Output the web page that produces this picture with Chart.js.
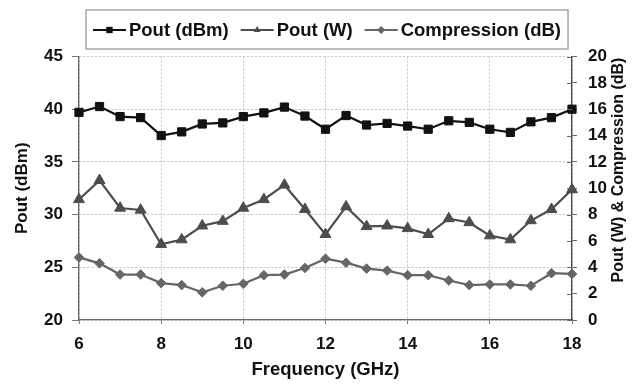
<!DOCTYPE html>
<html>
<head>
<meta charset="utf-8">
<script src="https://cdn.jsdelivr.net/npm/chart.js@4/dist/chart.umd.min.js"></script>
<style>
  html, body { margin: 0; padding: 0; background: #fff; }
  #wrap { width: 643px; height: 384px; }
</style>
</head>
<body>
<div id="wrap"><canvas id="c" width="643" height="384"></canvas></div>
<script>
// Frequency sweep (GHz)
const freq = [6, 6.5, 7, 7.5, 8, 8.5, 9, 9.5, 10, 10.5, 11, 11.5, 12,
              12.5, 13, 13.5, 14, 14.5, 15, 15.5, 16, 16.5, 17, 17.5, 18];

// Output power (dBm) – left axis
const poutDbm = [39.7, 40.25, 39.3, 39.2, 37.5, 37.85, 38.6, 38.7, 39.3, 39.65, 40.2, 39.35, 38.1,
                 39.4, 38.5, 38.65, 38.4, 38.1, 38.9, 38.75, 38.1, 37.8, 38.8, 39.2, 40.0];

// Output power (W) – right axis
const poutW = [9.15, 10.6, 8.5, 8.35, 5.75, 6.1, 7.15, 7.5, 8.5, 9.15, 10.25, 8.4, 6.5,
               8.6, 7.1, 7.15, 6.95, 6.5, 7.7, 7.4, 6.4, 6.1, 7.55, 8.4, 9.9];

// Gain compression (dB) – right axis
const compression = [4.75, 4.3, 3.45, 3.45, 2.8, 2.65, 2.1, 2.6, 2.75, 3.4, 3.45, 3.95, 4.65,
                     4.35, 3.9, 3.75, 3.4, 3.4, 3.0, 2.65, 2.7, 2.7, 2.6, 3.55, 3.5];

const seriesLabels = ['Pout (dBm)', 'Pout (W)', 'Compression (dB)'];
const xTitle = 'Frequency (GHz)';
const yLeftTitle = 'Pout (dBm)';
const yRightTitle = 'Pout (W) & Compression (dB)';

const FONT = '"Liberation Sans", Arial, Helvetica, sans-serif';
Chart.defaults.font.family = FONT;
Chart.defaults.color = '#111';

const toPoints = (vals) => freq.map((f, i) => ({ x: f, y: vals[i] }));

function marker(ctx, style, x, y, r) {
  ctx.beginPath();
  if (style === 'rect') {
    const s = r * Math.SQRT1_2;
    ctx.rect(x - s, y - s, 2 * s, 2 * s);
  } else if (style === 'triangle') {
    ctx.moveTo(x, y - r);
    ctx.lineTo(x + r * Math.sin(Math.PI / 3), y + r / 2);
    ctx.lineTo(x - r * Math.sin(Math.PI / 3), y + r / 2);
    ctx.closePath();
  } else {
    ctx.moveTo(x, y - r); ctx.lineTo(x + r, y); ctx.lineTo(x, y + r); ctx.lineTo(x - r, y);
    ctx.closePath();
  }
  ctx.fill();
}

// Boxed legend with line + marker symbols, right-axis title (bottom-to-top) and inner ticks
const decorations = {
  id: 'decorations',
  afterDraw(chart) {
    const ctx = chart.ctx;
    const area = chart.chartArea;
    ctx.save();

    // inner tick marks on the right axis
    const y1 = chart.scales.y1;
    ctx.strokeStyle = '#666';
    ctx.lineWidth = 1;
    y1.ticks.forEach(t => {
      const py = Math.round(y1.getPixelForValue(t.value)) + 0.5;
      ctx.beginPath(); ctx.moveTo(area.right - 5, py); ctx.lineTo(area.right, py); ctx.stroke();
    });

    // right axis title
    ctx.save();
    ctx.translate(619, 170);
    ctx.rotate(-Math.PI / 2);
    ctx.font = 'bold 16px ' + FONT;
    ctx.fillStyle = '#111';
    ctx.textAlign = 'center';
    ctx.textBaseline = 'middle';
    ctx.fillText(yRightTitle, 0, 0);
    ctx.restore();

    // legend
    ctx.font = 'bold 18.5px ' + FONT;
    const symW = 33, symGap = 3, itemGap = 12;
    const items = chart.data.datasets.map(ds => ({ ds, w: symW + symGap + ctx.measureText(ds.label).width }));
    const total = items.reduce((s, it) => s + it.w, 0) + itemGap * (items.length - 1);
    let x = 327 - total / 2;
    const cy = 30;
    ctx.fillStyle = '#fff';
    ctx.fillRect(x - 7, 10, total + 14, 39);
    ctx.strokeStyle = '#9a9a9a';
    ctx.lineWidth = 1.3;
    ctx.strokeRect(x - 7, 10, total + 14, 39);
    items.forEach(it => {
      const ds = it.ds;
      ctx.strokeStyle = ds.borderColor;
      ctx.lineWidth = 2;
      ctx.beginPath(); ctx.moveTo(x, cy); ctx.lineTo(x + symW, cy); ctx.stroke();
      ctx.fillStyle = ds.borderColor;
      marker(ctx, ds.pointStyle, x + symW / 2, cy, ds.pointStyle === 'rect' ? 4.5 : 4);
      ctx.fillStyle = '#111';
      ctx.textAlign = 'left';
      ctx.textBaseline = 'middle';
      ctx.fillText(ds.label, x + symW + symGap, cy + 1);
      x += it.w + itemGap;
    });
    ctx.restore();
  }
};

new Chart(document.getElementById('c'), {
  type: 'line',
  data: {
    datasets: [
      {
        label: seriesLabels[0], yAxisID: 'y', data: toPoints(poutDbm),
        borderColor: '#111', backgroundColor: '#111', pointBackgroundColor: '#111',
        pointBorderColor: '#111', borderWidth: 2.2, pointStyle: 'rect', pointRadius: 5.8,
        pointBorderWidth: 1, tension: 0, clip: false
      },
      {
        label: seriesLabels[1], yAxisID: 'y1', data: toPoints(poutW),
        borderColor: '#4d4d4d', backgroundColor: '#4d4d4d', pointBackgroundColor: '#4d4d4d',
        pointBorderColor: '#4d4d4d', borderWidth: 2.2, pointStyle: 'triangle', pointRadius: 6.3,
        pointBorderWidth: 1, tension: 0, clip: false
      },
      {
        label: seriesLabels[2], yAxisID: 'y1', data: toPoints(compression),
        borderColor: '#666', backgroundColor: '#666', pointBackgroundColor: '#666',
        pointBorderColor: '#666', borderWidth: 2.2, pointStyle: 'rectRot', pointRadius: 4.8,
        pointBorderWidth: 1, tension: 0, clip: false
      }
    ]
  },
  options: {
    responsive: false,
    animation: false,
    layout: { padding: { top: 56.5, left: 0, right: 0, bottom: 0 } },
    plugins: { legend: { display: false }, tooltip: { enabled: false } },
    scales: {
      x: {
        type: 'linear', position: 'bottom', min: 6, max: 18,
        ticks: { stepSize: 2, font: { size: 17, weight: 'bold' }, color: '#111', padding: 10, maxRotation: 0 },
        grid: { color: '#c4c4c4', tickColor: '#777', tickLength: 4 },
        border: { color: '#666', width: 1.3, dash: [2, 2] },
        title: { display: true, text: xTitle, font: { size: 18.5, weight: 'bold' }, color: '#111',
                 padding: { top: 0, bottom: 3 } },
        afterFit(s) { s.height = 64; }
      },
      y: {
        position: 'left', min: 20, max: 45,
        ticks: { stepSize: 5, font: { size: 17, weight: 'bold' }, color: '#111', padding: 9 },
        grid: { color: '#c4c4c4', tickColor: '#777', tickLength: 7 },
        border: { color: '#666', width: 1.3, dash: [2, 2] },
        title: { display: true, text: yLeftTitle, font: { size: 17, weight: 'bold' }, color: '#111',
                 padding: { top: 12, bottom: 0 } },
        afterFit(s) { s.width = 79; }
      },
      y1: {
        position: 'right', min: 0, max: 20,
        ticks: { stepSize: 2, font: { size: 17, weight: 'bold' }, color: '#111', padding: 11 },
        grid: { drawOnChartArea: false, tickColor: '#666', tickLength: 5 },
        border: { color: '#444', width: 1.3 },
        afterFit(s) { s.width = 71; }
      }
    }
  },
  plugins: [decorations]
});
</script>
</body>
</html>
